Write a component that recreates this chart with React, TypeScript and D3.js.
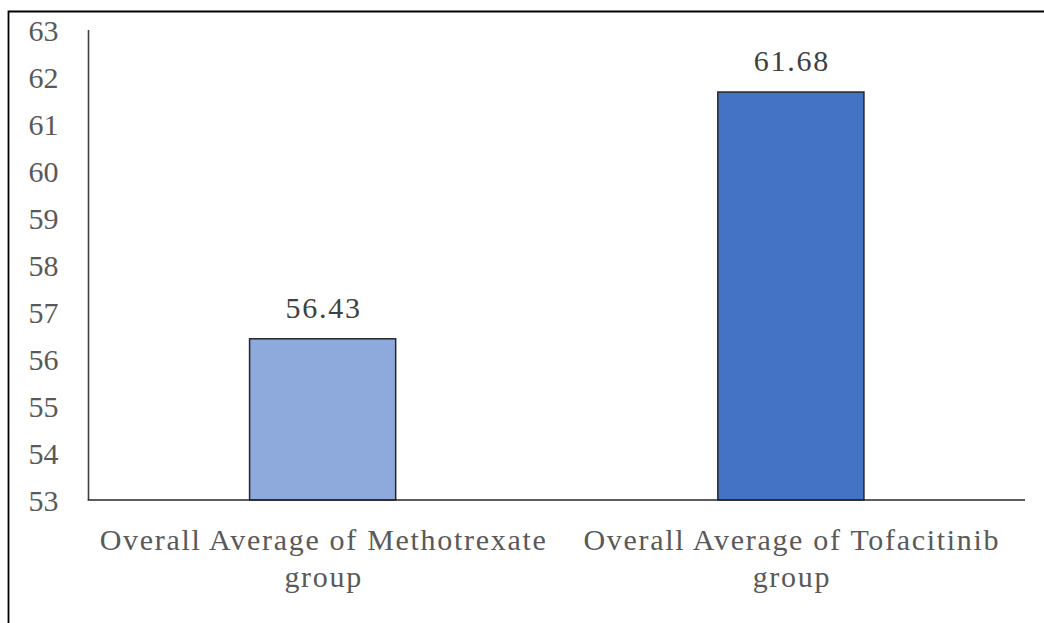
import React from "react";
import * as d3 from "d3";

const categories = [
  ["Overall Average of Methotrexate", "group"],
  ["Overall Average of Tofacitinib", "group"],
];
const values = [56.43, 61.68];
const valueLabels = ["56.43", "61.68"];
const barColors = ["#8EA9DB", "#4472C4"];
const yTicks = [53, 54, 55, 56, 57, 58, 59, 60, 61, 62, 63];

const W = 1044;
const H = 623;
const left = 88.5;
const right = 1025;
const top = 30;
const bottom = 500;
const FAM = '"Times New Roman", "Liberation Serif", serif';

export default function App() {
  const y = d3.scaleLinear().domain([53, 63]).range([bottom, top]);
  const x = d3
    .scaleBand<number>()
    .domain(values.map((_, i) => i))
    .range([left, right])
    .paddingInner(0.688)
    .paddingOuter(0.344);

  return (
    <svg
      width={W}
      height={H}
      style={{ position: "absolute", left: 0, top: 0, fontFamily: FAM, fontSize: "30px" }}
    >
      <rect x={0} y={0} width={W} height={H} fill="#fff" />
      <path d={`M8.5,${H} L8.5,11.5 L${W},11.5`} fill="none" stroke="#000" strokeWidth={1.8} />

      {yTicks.map((t) => (
        <text key={t} x={58.5} y={y(t) + 10.5} textAnchor="end" fill="#595959">
          {t}
        </text>
      ))}

      {values.map((v, i) => (
        <rect
          key={i}
          x={x(i)}
          y={y(v)}
          width={x.bandwidth()}
          height={bottom - y(v)}
          fill={barColors[i]}
          stroke="#262626"
          strokeWidth={1.5}
        />
      ))}

      <line x1={left} x2={left} y1={top} y2={bottom} stroke="#404040" strokeWidth={1.6} />
      <line x1={left - 0.8} x2={right} y1={bottom} y2={bottom} stroke="#262626" strokeWidth={1.6} />

      {values.map((v, i) => (
        <text
          key={i}
          x={(x(i) as number) + x.bandwidth() / 2 + 1}
          y={y(v) - 21}
          textAnchor="middle"
          fill="#404040"
          letterSpacing={1.8}
        >
          {valueLabels[i]}
        </text>
      ))}

      {categories.map((lines, i) =>
        lines.map((ln, j) => (
          <text
            key={`${i}-${j}`}
            x={(x(i) as number) + x.bandwidth() / 2 + 1}
            y={550 + j * 37}
            textAnchor="middle"
            fill="#595959"
            letterSpacing={1.7}
          >
            {ln}
          </text>
        ))
      )}
    </svg>
  );
}
